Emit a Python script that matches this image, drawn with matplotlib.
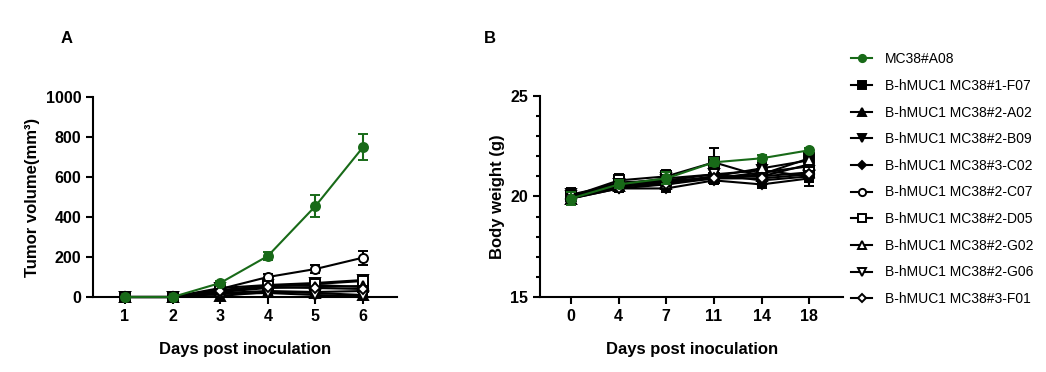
import matplotlib.pyplot as plt
from matplotlib.ticker import MultipleLocator

plt.rcParams['font.family'] = ['Liberation Sans', 'DejaVu Sans']

labels = ['MC38#A08', 'B-hMUC1 MC38#1-F07', 'B-hMUC1 MC38#2-A02', 'B-hMUC1 MC38#2-B09',
          'B-hMUC1 MC38#3-C02', 'B-hMUC1 MC38#2-C07', 'B-hMUC1 MC38#2-D05',
          'B-hMUC1 MC38#2-G02', 'B-hMUC1 MC38#2-G06', 'B-hMUC1 MC38#3-F01']
markers = ['o', 's', '^', 'v', 'D', 'o', 's', '^', 'v', 'D']
filled = [True, True, True, True, True, False, False, False, False, False]
green = '#186a18'

# Panel A: tumor volume
days_a = [1, 2, 3, 4, 5, 6]
vol = [
    [0, 0, 70, 205, 455, 750],
    [0, 0, 30, 55, 60, 50],
    [0, 0, 5, 25, 20, 10],
    [0, 0, 45, 60, 70, 85],
    [0, 0, 20, 30, 25, 30],
    [0, 0, 40, 100, 140, 197],
    [0, 0, 35, 55, 65, 80],
    [0, 0, 25, 45, 50, 55],
    [0, 0, 15, 20, 10, 5],
    [0, 0, 30, 50, 45, 40],
]
vol_err = [
    [0, 0, 8, 20, 55, 65],
    [0, 0, 8, 10, 12, 15],
    [0, 0, 5, 8, 8, 8],
    [0, 0, 10, 12, 15, 18],
    [0, 0, 6, 8, 8, 10],
    [0, 0, 10, 15, 20, 35],
    [0, 0, 8, 12, 15, 15],
    [0, 0, 8, 10, 10, 12],
    [0, 0, 5, 6, 6, 5],
    [0, 0, 8, 10, 10, 10],
]

# Panel B: body weight
days_b = ['0', '4', '7', '11', '14', '18']
weight = [
    [19.9, 20.6, 20.9, 21.7, 21.9, 22.3],
    [20.0, 20.7, 20.8, 20.9, 21.1, 21.9],
    [19.9, 20.5, 20.7, 21.0, 21.0, 21.6],
    [20.1, 20.6, 20.9, 21.1, 21.3, 21.0],
    [19.9, 20.4, 20.4, 20.8, 20.6, 20.9],
    [20.0, 20.6, 20.7, 20.9, 21.2, 21.5],
    [20.0, 20.8, 21.0, 21.7, 21.0, 21.2],
    [19.9, 20.5, 20.6, 21.0, 21.4, 21.8],
    [20.0, 20.6, 20.8, 21.1, 20.8, 21.0],
    [19.9, 20.4, 20.6, 20.9, 20.9, 21.1],
]
weight_err = [
    [0.3, 0.2, 0.3, 0.2, 0.15, 0.1],
    [0.3, 0.3, 0.3, 0.3, 0.3, 0.3],
    [0.2, 0.2, 0.2, 0.3, 0.3, 0.3],
    [0.3, 0.3, 0.3, 0.3, 0.3, 0.3],
    [0.2, 0.2, 0.2, 0.2, 0.2, 0.2],
    [0.3, 0.2, 0.3, 0.3, 0.3, 0.3],
    [0.3, 0.3, 0.3, 0.7, 0.3, 0.3],
    [0.2, 0.3, 0.3, 0.3, 0.3, 0.3],
    [0.3, 0.2, 0.2, 0.2, 0.3, 0.5],
    [0.2, 0.2, 0.2, 0.2, 0.2, 0.3],
]

fig = plt.figure(figsize=(10.46, 3.72), dpi=100)
ax1 = fig.add_axes([0.0889, 0.2016, 0.2906, 0.5376])
ax2 = fig.add_axes([0.5163, 0.2016, 0.2897, 0.5404])

handles = []
for i in range(len(labels)):
    c = green if i == 0 else 'black'
    fc = c if filled[i] else 'white'
    z = 10 if i == 0 else 3
    ms = 6.5 if markers[i] != 'D' else 5
    kw = dict(color=c, marker=markers[i], markersize=ms, markerfacecolor=fc,
              markeredgecolor=c, markeredgewidth=1.4, linewidth=1.5,
              capsize=3.5, elinewidth=1.5, capthick=1.5, zorder=z, clip_on=False)
    ax1.errorbar(days_a, vol[i], yerr=vol_err[i], **kw)
    cont = ax2.errorbar(range(len(days_b)), weight[i], yerr=weight_err[i], **kw)
    handles.append(cont[0])

ax1.set_xlim(0.33, 6.71)
ax1.set_ylim(0, 1000)
ax1.set_xticks(days_a)
ax1.set_yticks([0, 200, 400, 600, 800, 1000])
ax1.set_ylabel('Tumor volume(mm³)', fontsize=12, fontweight='bold')

ax2.set_xlim(-0.65, 5.71)
ax2.set_ylim(15, 25)
ax2.set_xticks(range(len(days_b)))
ax2.set_xticklabels(days_b)
ax2.set_yticks([15, 20, 25])
ax2.yaxis.set_minor_locator(MultipleLocator(1))
ax2.set_ylabel('Body weight (g)', fontsize=12, fontweight='bold')

for ax in (ax1, ax2):
    for s in ('top', 'right'):
        ax.spines[s].set_visible(False)
    for s in ('left', 'bottom'):
        ax.spines[s].set_linewidth(1.5)
    ax.tick_params(which='major', direction='out', length=5, width=1.5)
    ax.tick_params(which='minor', direction='out', length=3, width=1.5)
    for t in ax.get_xticklabels() + ax.get_yticklabels():
        t.set_fontsize(11.5)
        t.set_fontweight('bold')
    ax.set_xlabel('Days post inoculation', fontsize=12, fontweight='bold', labelpad=13)

fig.text(0.058, 0.885, 'A', fontsize=12, fontweight='bold')
fig.text(0.463, 0.885, 'B', fontsize=12, fontweight='bold')

fig.legend(handles, labels, loc='upper left', bbox_to_anchor=(0.802, 0.893),
           frameon=False, fontsize=10, handlelength=1.5, handletextpad=0.9,
           labelspacing=0.91, markerscale=0.8)

fig.savefig('out.png', dpi=100)
